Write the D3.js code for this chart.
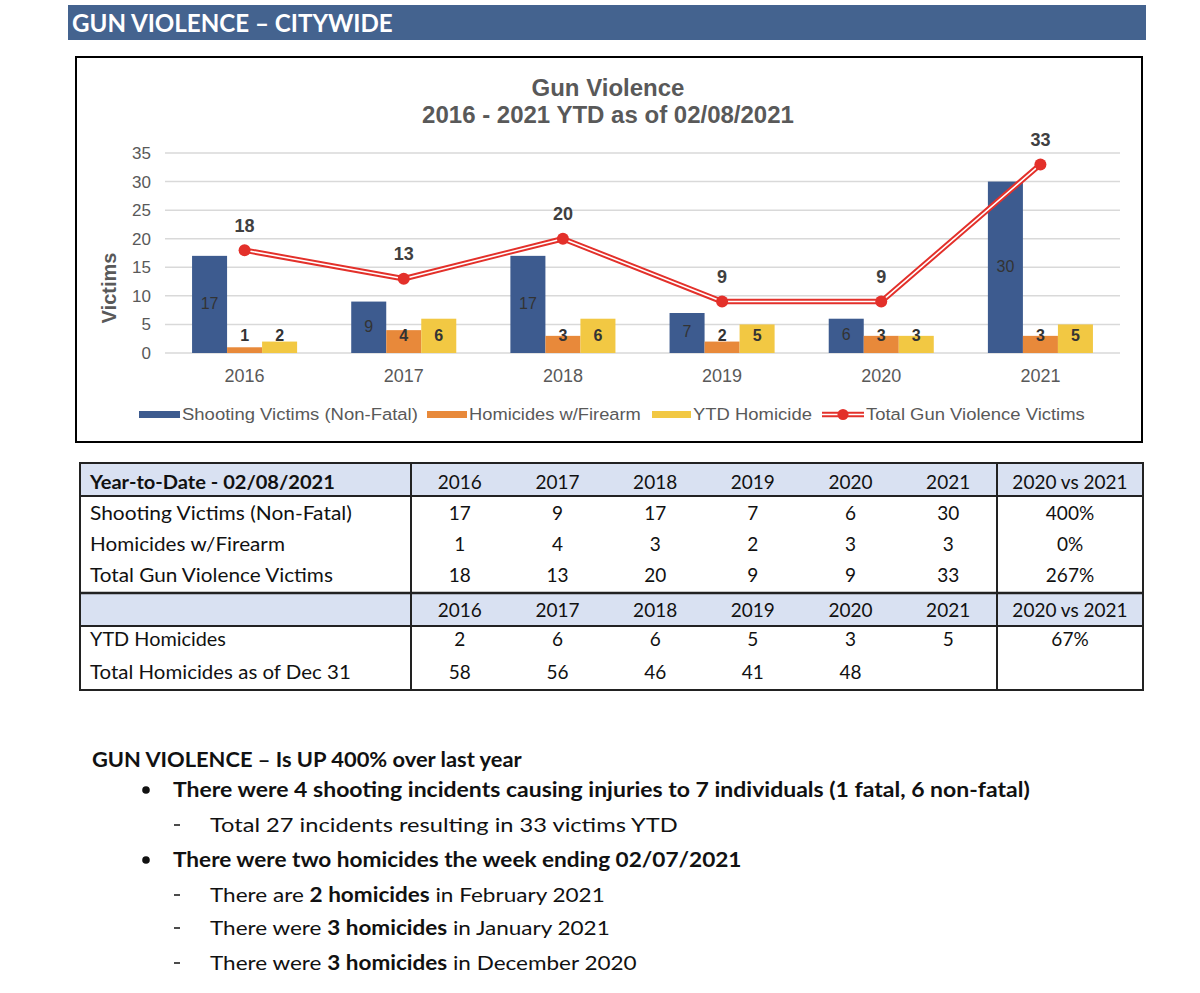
<!DOCTYPE html>
<html>
<head>
<meta charset="utf-8">
<script src="https://cdn.jsdelivr.net/npm/d3@7"></script>
<style>
  body { margin: 0; background: #fff; }
  svg text { font-family: "Liberation Sans", Arial, sans-serif; }
  .cal { font-family: Lato, "Open Sans", sans-serif; }
</style>
</head>
<body>
<script>
// Chart data
var years = ['2016', '2017', '2018', '2019', '2020', '2021'];
var shootingVictims = [17, 9, 17, 7, 6, 30];
var homicidesFirearm = [1, 4, 3, 2, 3, 3];
var ytdHomicide = [2, 6, 6, 5, 3, 5];
var totalVictims = [18, 13, 20, 9, 9, 33];
var yTicks = [0, 5, 10, 15, 20, 25, 30, 35];

// Table data
var totalHomicidesDec31 = [58, 56, 46, 41, 48, ''];
var changeTop = ['400%', '0%', '267%'];
var changeYtd = ['67%', ''];

var seriesNames = ['Shooting Victims (Non-Fatal)', 'Homicides w/Firearm', 'YTD Homicide'];
var seriesColors = ['#3d5b8f', '#e8893a', '#f2c843'];
var lineColor = '#e3302a';

var width = 1200;
var height = 993;

var svg = d3.select('body')
    .append('svg')
    .attr('width', width)
    .attr('height', height);

// squeeze a text element horizontally to a target width (Calibri stand-in)
function fit(sel, target) {
    var node = sel.node();
    var w = node.getComputedTextLength();
    var x = +sel.attr('x'), y = +sel.attr('y');
    var k = target / w;
    sel.attr('x', 0).attr('y', 0)
        .attr('transform', 'translate(' + x + ',' + y + ') scale(' + k + ',1)');
    return sel;
}

// Header bar
svg.append('rect')
    .attr('x', 68).attr('y', 5)
    .attr('width', 1078).attr('height', 35)
    .attr('fill', '#44638f');
fit(svg.append('text')
    .attr('class', 'cal')
    .attr('x', 72).attr('y', 32)
    .attr('fill', '#fff')
    .attr('font-size', 24)
    .attr('font-weight', 'bold')
    .text('GUN VIOLENCE – CITYWIDE'), 321);

// Chart frame
svg.append('rect')
    .attr('x', 76).attr('y', 57)
    .attr('width', 1066).attr('height', 385)
    .attr('fill', '#fff')
    .attr('stroke', '#000')
    .attr('stroke-width', 2);

// Title
svg.append('text')
    .attr('x', 608).attr('y', 96)
    .attr('text-anchor', 'middle')
    .attr('font-size', 24).attr('font-weight', 'bold')
    .attr('fill', '#595959')
    .text('Gun Violence');
svg.append('text')
    .attr('x', 608).attr('y', 123)
    .attr('text-anchor', 'middle')
    .attr('font-size', 24).attr('font-weight', 'bold')
    .attr('fill', '#595959')
    .text('2016 - 2021 YTD as of 02/08/2021');

// Scales
var xScale = d3.scaleBand()
    .domain(years)
    .range([165, 1120])
    .paddingInner(0.34)
    .paddingOuter(0.17);

var xSub = d3.scaleBand()
    .domain([0, 1, 2])
    .range([0, xScale.bandwidth()]);

var yScale = d3.scaleLinear()
    .domain([0, 35])
    .range([353, 153]);

// Gridlines
svg.append('g').selectAll('line')
    .data(yTicks)
    .enter()
    .append('line')
    .attr('x1', 165).attr('x2', 1120)
    .attr('y1', function(d) { return yScale(d); })
    .attr('y2', function(d) { return yScale(d); })
    .attr('stroke', '#d9d9d9')
    .attr('stroke-width', 1.5);

// y axis
var yAxis = d3.axisLeft(yScale)
    .tickValues(yTicks)
    .tickSize(0)
    .tickPadding(14);
var yAxisGroup = svg.append('g')
    .attr('transform', 'translate(165,0)')
    .call(yAxis);
yAxisGroup.select('.domain').remove();
yAxisGroup.selectAll('text')
    .attr('font-size', 17)
    .attr('fill', '#595959')
    .attr('font-family', '"Liberation Sans", Arial, sans-serif');

// x axis labels
var xAxis = d3.axisBottom(xScale).tickSize(0).tickPadding(16);
var xAxisGroup = svg.append('g')
    .attr('transform', 'translate(0,353)')
    .call(xAxis);
xAxisGroup.select('.domain').remove();
xAxisGroup.selectAll('text')
    .attr('font-size', 18)
    .attr('fill', '#595959')
    .attr('font-family', '"Liberation Sans", Arial, sans-serif');

// Y axis title
svg.append('text')
    .attr('transform', 'translate(116,288) rotate(-90)')
    .attr('text-anchor', 'middle')
    .attr('font-size', 20).attr('font-weight', 'bold')
    .attr('fill', '#595959')
    .text('Victims');

// Bars
var barSeries = [shootingVictims, homicidesFirearm, ytdHomicide];
var rows = years.map(function(yr, i) {
    return barSeries.map(function(s, j) { return { year: yr, j: j, v: s[i] }; });
});
var flat = [].concat.apply([], rows);

svg.append('g').selectAll('rect')
    .data(flat)
    .enter()
    .append('rect')
    .attr('x', function(d) { return xScale(d.year) + xSub(d.j); })
    .attr('width', xSub.bandwidth())
    .attr('y', function(d) { return yScale(d.v); })
    .attr('height', function(d) { return yScale(0) - yScale(d.v); })
    .attr('fill', function(d) { return seriesColors[d.j]; });

// Bar labels
svg.append('g').selectAll('text')
    .data(flat)
    .enter()
    .append('text')
    .attr('x', function(d) { return xScale(d.year) + xSub(d.j) + xSub.bandwidth() / 2; })
    .attr('y', function(d) {
        if (d.j === 0) return (yScale(d.v) + yScale(0)) / 2;
        return yScale(2.9);
    })
    .attr('text-anchor', 'middle')
    .attr('dominant-baseline', 'middle')
    .attr('font-size', 16)
    .attr('font-weight', function(d) { return d.j === 0 ? 'normal' : 'bold'; })
    .attr('fill', '#333')
    .text(function(d) { return d.v; });

// Total line (double red line)
var line = d3.line()
    .x(function(d, i) { return xScale(years[i]) + xScale.bandwidth() / 2; })
    .y(function(d) { return yScale(d); });

svg.append('path')
    .datum(totalVictims)
    .attr('d', line)
    .attr('fill', 'none')
    .attr('stroke', lineColor)
    .attr('stroke-width', 5.5)
    .attr('stroke-linejoin', 'round');
svg.append('path')
    .datum(totalVictims)
    .attr('d', line)
    .attr('fill', 'none')
    .attr('stroke', '#fff')
    .attr('stroke-width', 1.6)
    .attr('stroke-linejoin', 'round');

svg.append('g').selectAll('circle')
    .data(totalVictims)
    .enter()
    .append('circle')
    .attr('cx', function(d, i) { return xScale(years[i]) + xScale.bandwidth() / 2; })
    .attr('cy', function(d) { return yScale(d); })
    .attr('r', 6)
    .attr('fill', lineColor);

svg.append('g').selectAll('text')
    .data(totalVictims)
    .enter()
    .append('text')
    .attr('x', function(d, i) { return xScale(years[i]) + xScale.bandwidth() / 2; })
    .attr('y', function(d) { return yScale(d) - 23; })
    .attr('text-anchor', 'middle')
    .attr('dominant-baseline', 'middle')
    .attr('font-size', 18).attr('font-weight', 'bold')
    .attr('fill', '#404040')
    .text(function(d) { return d; });

// Legend
var legendX = [139, 427, 652];
var legendTextX = [182, 469, 693];
var legendW = [236, 172, 119];
seriesNames.forEach(function(name, i) {
    svg.append('rect')
        .attr('x', legendX[i]).attr('y', 411)
        .attr('width', legendTextX[i] - legendX[i] - 2).attr('height', 7)
        .attr('fill', seriesColors[i]);
    fit(svg.append('text')
        .attr('x', legendTextX[i]).attr('y', 420)
        .attr('font-size', 17)
        .attr('fill', '#595959')
        .text(name), legendW[i]);
});
svg.append('line')
    .attr('x1', 822).attr('x2', 864).attr('y1', 414.5).attr('y2', 414.5)
    .attr('stroke', lineColor).attr('stroke-width', 5.5);
svg.append('line')
    .attr('x1', 822).attr('x2', 864).attr('y1', 414.5).attr('y2', 414.5)
    .attr('stroke', '#fff').attr('stroke-width', 1.6);
svg.append('circle')
    .attr('cx', 843).attr('cy', 414.5).attr('r', 5.5)
    .attr('fill', lineColor);
fit(svg.append('text')
    .attr('x', 866).attr('y', 420)
    .attr('font-size', 17)
    .attr('fill', '#595959')
    .text('Total Gun Violence Victims'), 219);

// Table
var tLeft = 80, tRight = 1143, tDiv1 = 411, tDiv2 = 997;
var colW = (tDiv2 - tDiv1) / years.length;
var colX = years.map(function(d, i) { return tDiv1 + colW * (i + 0.5); });
var vsX = (tDiv2 + tRight) / 2;

svg.append('rect').attr('x', tLeft).attr('y', 463).attr('width', tRight - tLeft).attr('height', 33).attr('fill', '#d9e1f2');
svg.append('rect').attr('x', tLeft).attr('y', 593).attr('width', tRight - tLeft).attr('height', 33).attr('fill', '#d9e1f2');

var hLines = [[463, 2], [496, 2], [593, 2.5], [626, 2], [690, 2]];
hLines.forEach(function(h) {
    svg.append('line')
        .attr('x1', tLeft).attr('x2', tRight)
        .attr('y1', h[0]).attr('y2', h[0])
        .attr('stroke', '#222').attr('stroke-width', h[1]);
});
[tLeft, tDiv1, tDiv2, tRight].forEach(function(x) {
    svg.append('line')
        .attr('x1', x).attr('x2', x).attr('y1', 462).attr('y2', 691)
        .attr('stroke', '#222').attr('stroke-width', 2);
});

function cell(x, y, txt, anchor, bold) {
    return svg.append('text')
        .attr('class', 'cal')
        .attr('x', x).attr('y', y)
        .attr('text-anchor', anchor)
        .attr('dominant-baseline', 'middle')
        .attr('font-size', 19)
        .attr('font-weight', bold ? 'bold' : 'normal')
        .attr('fill', '#111')
        .text(txt);
}

var rowLabelsTop = ['Shooting Victims (Non-Fatal)', 'Homicides w/Firearm', 'Total Gun Violence Victims'];
var rowValsTop = [shootingVictims, homicidesFirearm, totalVictims];
var rowYTop = [515, 546, 577];
var rowWTop = [262, 195, 243];

fit(cell(90, 484, 'Year-to-Date - 02/08/2021', 'start', true), 245);
years.forEach(function(yr, i) { cell(colX[i], 484, yr, 'middle'); cell(colX[i], 612, yr, 'middle'); });
cell(vsX, 484, '2020 vs 2021', 'middle');
cell(vsX, 612, '2020 vs 2021', 'middle');

rowLabelsTop.forEach(function(lbl, r) {
    fit(cell(90, rowYTop[r], lbl, 'start'), rowWTop[r]);
    rowValsTop[r].forEach(function(v, i) { cell(colX[i], rowYTop[r], v, 'middle'); });
    cell(vsX, rowYTop[r], changeTop[r], 'middle');
});

var rowLabelsBot = ['YTD Homicides', 'Total Homicides as of Dec 31'];
var rowValsBot = [ytdHomicide, totalHomicidesDec31];
var rowYBot = [641, 674];
var rowWBot = [136, 261];
rowLabelsBot.forEach(function(lbl, r) {
    fit(cell(90, rowYBot[r], lbl, 'start'), rowWBot[r]);
    rowValsBot[r].forEach(function(v, i) { cell(colX[i], rowYBot[r], v, 'middle'); });
    cell(vsX, rowYBot[r], changeYtd[r], 'middle');
});

// Notes below the table
function note(x, y, parts, target) {
    var t = svg.append('text')
        .attr('class', 'cal')
        .attr('x', x).attr('y', y)
        .attr('font-size', 20)
        .attr('fill', '#111');
    parts.forEach(function(p) {
        t.append('tspan')
            .attr('font-weight', p[1] ? 'bold' : 'normal')
            .text(p[0]);
    });
    return fit(t, target);
}

note(92, 767, [['GUN VIOLENCE – Is UP 400% over last year', true]], 430);
note(173, 797, [['There were 4 shooting incidents causing injuries to 7 individuals (1 fatal, 6 non-fatal)', true]], 857);
note(210, 832, [['Total 27 incidents resulting in 33 victims YTD', false]], 468);
note(173, 867, [['There were two homicides the week ending 02/07/2021', true]], 569);
note(210, 902, [['There are ', false], ['2 homicides', true], [' in February 2021', false]], 395);
note(210, 935, [['There were ', false], ['3 homicides', true], [' in January 2021', false]], 400);
note(210, 970, [['There were ', false], ['3 homicides', true], [' in December 2020', false]], 427);

// bullets and dashes
[790, 860].forEach(function(y) {
    svg.append('circle').attr('cx', 146).attr('cy', y).attr('r', 3.8).attr('fill', '#111');
});
[825, 895, 928, 963].forEach(function(y) {
    svg.append('line').attr('x1', 174).attr('x2', 180).attr('y1', y).attr('y2', y)
        .attr('stroke', '#111').attr('stroke-width', 1.5);
});
</script>
</body>
</html>
